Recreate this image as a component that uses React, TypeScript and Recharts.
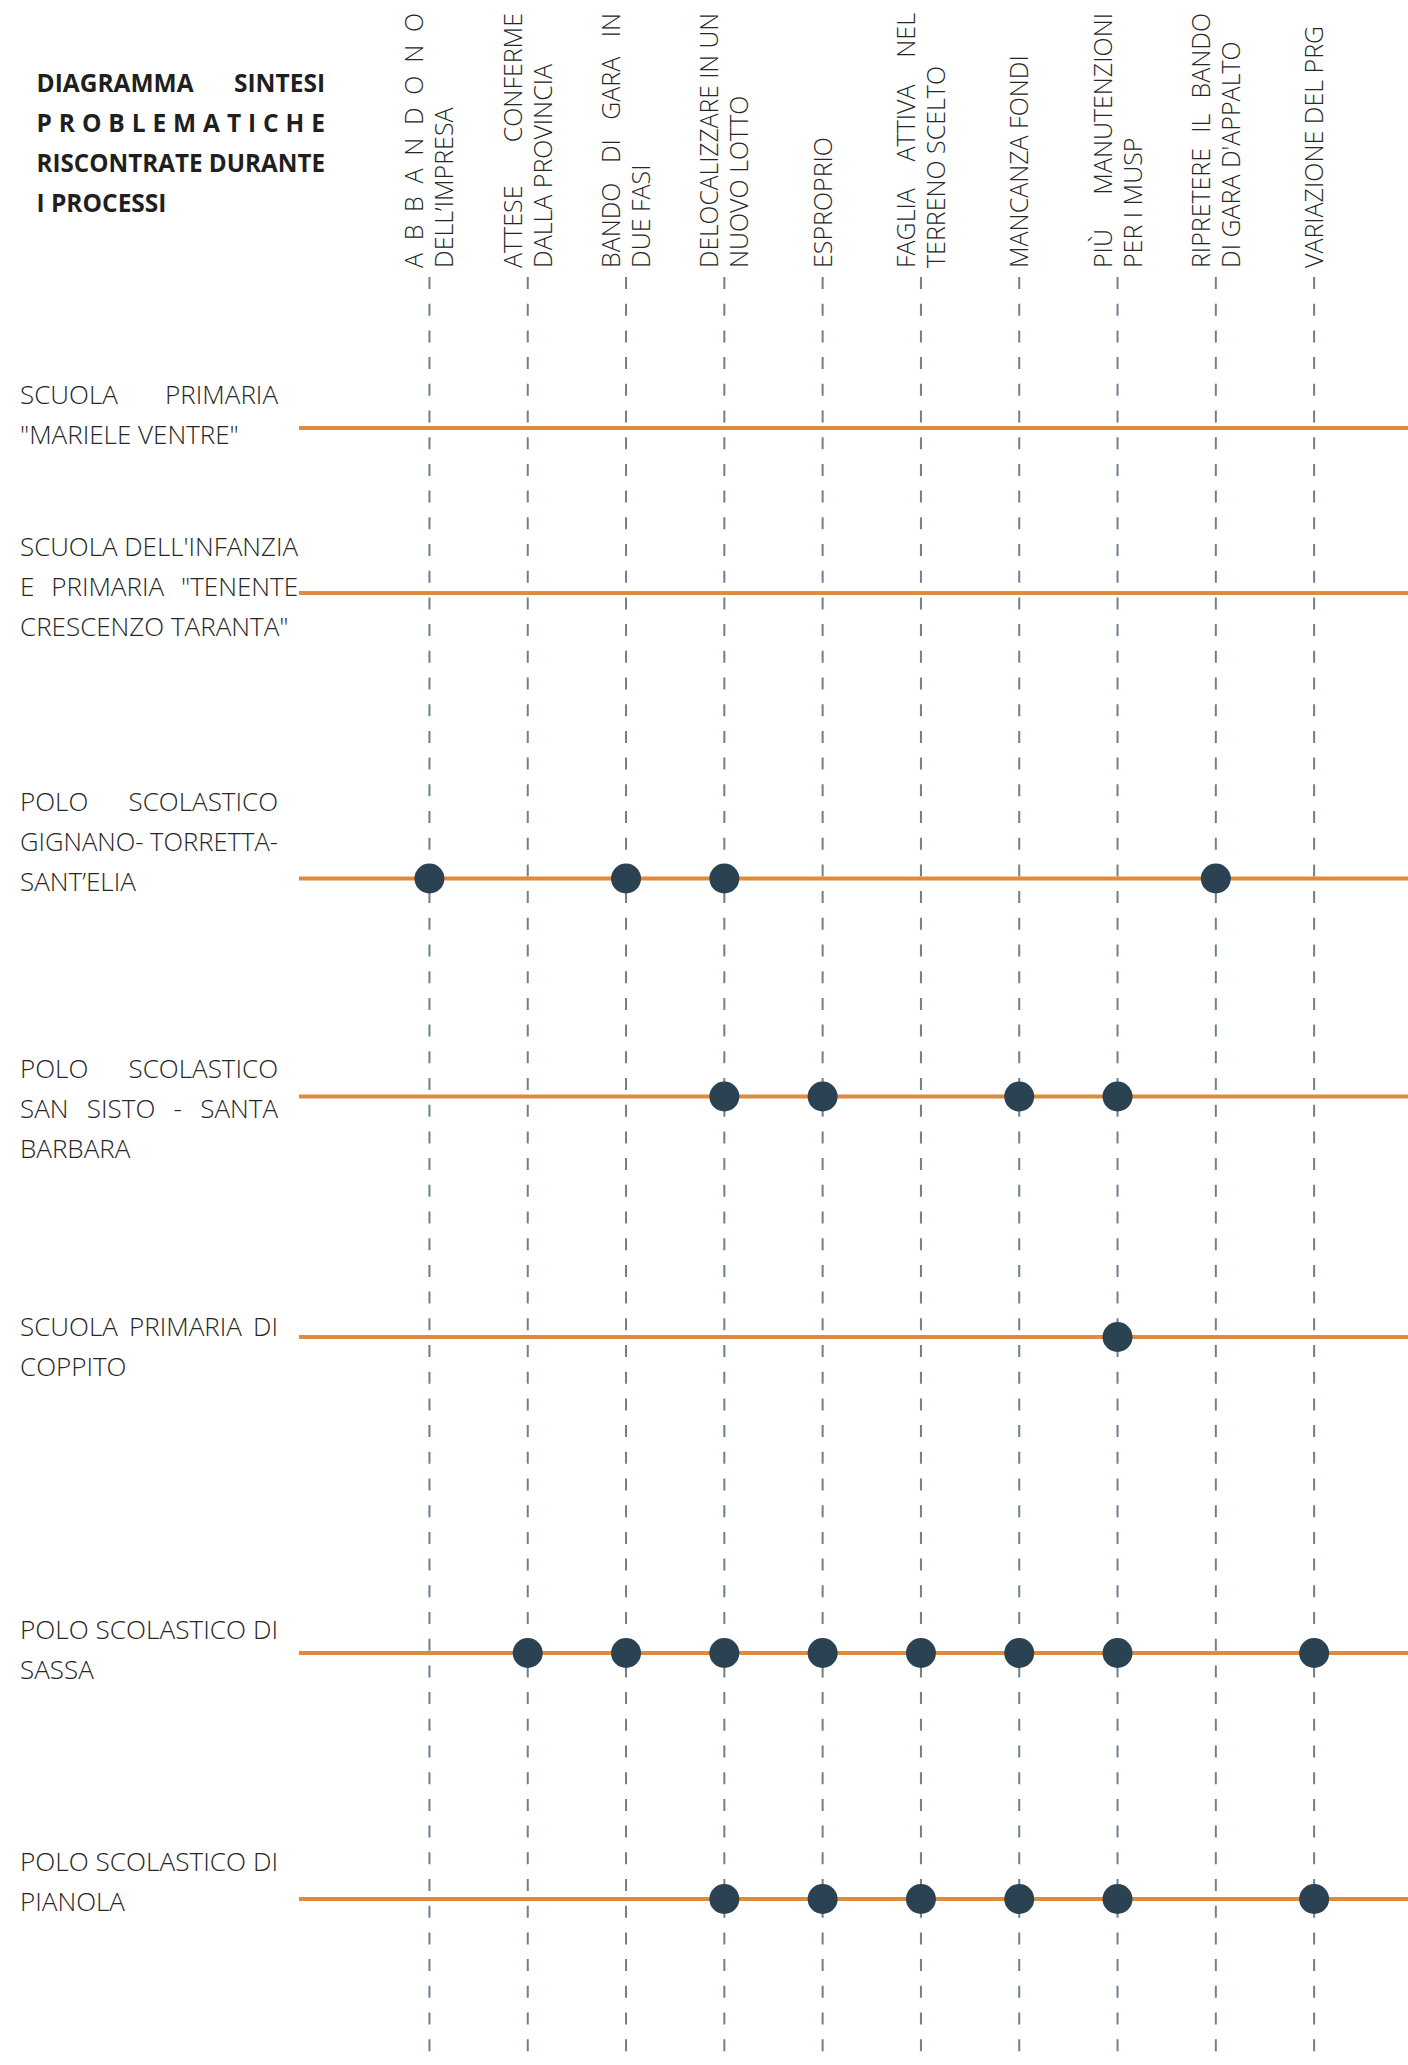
import React from 'react';
import { CartesianGrid, ReferenceLine, Scatter, ScatterChart, XAxis, YAxis } from 'recharts';

// column headers (one entry per problem, split in lines as in the original)
const problemLabels: string[][] = [
  ['ABBANDONO', 'DELL’IMPRESA'],
  ['ATTESE CONFERME', 'DALLA PROVINCIA'],
  ['BANDO DI GARA IN', 'DUE FASI'],
  ['DELOCALIZZARE IN UN', 'NUOVO LOTTO'],
  ['ESPROPRIO'],
  ['FAGLIA ATTIVA NEL', 'TERRENO SCELTO'],
  ['MANCANZA FONDI'],
  ['PIÙ MANUTENZIONI', 'PER I MUSP'],
  ['RIPRETERE IL BANDO', "DI GARA D'APPALTO"],
  ['VARIAZIONE DEL PRG'],
];

const schoolLabels: string[][] = [
  ['SCUOLA PRIMARIA', '"MARIELE VENTRE"'],
  ["SCUOLA DELL'INFANZIA", 'E PRIMARIA "TENENTE', 'CRESCENZO TARANTA"'],
  ['POLO SCOLASTICO', 'GIGNANO- TORRETTA-', 'SANT’ELIA'],
  ['POLO SCOLASTICO', 'SAN SISTO - SANTA', 'BARBARA'],
  ['SCUOLA PRIMARIA DI', 'COPPITO'],
  ['POLO SCOLASTICO DI', 'SASSA'],
  ['POLO SCOLASTICO DI', 'PIANOLA'],
];

// problems met by each school (index into problemLabels)
const schoolIssues: number[][] = [
  [],
  [],
  [0, 2, 3, 8],
  [3, 4, 6, 7],
  [7],
  [1, 2, 3, 4, 5, 6, 7, 9],
  [3, 4, 5, 6, 7, 9],
];

const titleLines = ['DIAGRAMMA SINTESI', 'PROBLEMATICHE', 'RISCONTRATE DURANTE', 'I PROCESSI'];

// layout
const W = 1408;
const H = 2065;
const HEADER_H = 277;
const LEFT_W = 299;
const PLOT_H = H - HEADER_H;
const ROW_GAPS = [151, 165, 285.5, 218, 240.5, 316, 246];
const LABEL_SHIFT = [-33, -46, -77, -28, -10, -23, -37];
const LABEL_WIDTH = [258, 278, 258, 258, 258, 258, 258];

const ORANGE = '#e08a3c';
const NAVY = '#2b4253';
const GRID = '#6e808d';
const TEXT = '#262626';

type Font = { family: string; size: number; weight: number };
const labelFont: Font = { family: '"Open Sans", sans-serif', size: 26, weight: 300 };
const headFont: Font = { family: '"Open Sans", sans-serif', size: 25, weight: 300 };
const titleFont: Font = { family: '"Open Sans", sans-serif', size: 24.5, weight: 700 };

const rowY: number[] = [];
ROW_GAPS.reduce((acc, g) => {
  rowY.push(acc + g);
  return acc + g;
}, 0);

const points = schoolIssues.flatMap((cols, i) => cols.map((c) => ({ x: c, y: rowY[i] })));

let ctx: CanvasRenderingContext2D | null = null;
function textWidth(text: string, f: Font) {
  if (!ctx) ctx = document.createElement('canvas').getContext('2d');
  if (!ctx) return text.length * f.size * 0.55;
  ctx.font = `${f.weight} ${f.size}px ${f.family}`;
  return ctx.measureText(text).width;
}

function JLine(props: { x: number; y: number; width: number; text: string; justify: boolean; f: Font; fill: string }) {
  const { x, y, width, text, justify, f, fill } = props;
  const attrs = { fontFamily: f.family, fontSize: f.size, fontWeight: f.weight, fill };
  const words = text.split(' ').filter(Boolean);
  if (!justify) {
    return (
      <text x={x} y={y} {...attrs}>
        {text}
      </text>
    );
  }
  if (words.length === 1) {
    return (
      <text x={x} y={y} textLength={width} lengthAdjust="spacing" {...attrs}>
        {text}
      </text>
    );
  }
  const widths = words.map((w) => textWidth(w, f));
  const gap = (width - widths.reduce((a, b) => a + b, 0)) / (words.length - 1);
  if (gap < f.size * 0.3) {
    // too tight: squeeze the line a little, keeping normal spaces
    return (
      <text x={x} y={y} textLength={width} lengthAdjust="spacingAndGlyphs" {...attrs}>
        {text}
      </text>
    );
  }
  let cx = x;
  return (
    <g>
      {words.map((w, i) => {
        const el = (
          <text key={i} x={cx} y={y} {...attrs}>
            {w}
          </text>
        );
        cx += widths[i] + gap;
        return el;
      })}
    </g>
  );
}

function ProblemTick(props: any) {
  const lines = problemLabels[props.payload.value];
  if (!lines) return null;
  const n = lines.length;
  return (
    <g transform={`translate(${props.x},268) rotate(-90)`}>
      {lines.map((t, k) => (
        <JLine key={k} x={0} y={9 - 15 * (n - 1) + 30 * k} width={255} text={t} justify={k < n - 1} f={headFont} fill={TEXT} />
      ))}
    </g>
  );
}

function SchoolTick(props: any) {
  const i = rowY.indexOf(props.payload.value);
  if (i < 0) return null;
  const lines = schoolLabels[i];
  const base = props.y + LABEL_SHIFT[i] + 9;
  return (
    <g>
      {lines.map((t, k) => (
        <JLine key={k} x={20} y={base + 40 * k} width={LABEL_WIDTH[i]} text={t} justify={k < lines.length - 1} f={labelFont} fill={TEXT} />
      ))}
    </g>
  );
}

const Dot = (p: any) => <circle cx={p.cx} cy={p.cy} r={15} fill={NAVY} />;

export default function App() {
  return (
    <div style={{ position: 'absolute', left: 0, top: 0, width: W, height: H, background: '#fff' }}>
      <ScatterChart width={W} height={H} margin={{ top: 0, right: 0, bottom: 0, left: 0 }}>
        <CartesianGrid horizontal={false} syncWithTicks stroke={GRID} strokeWidth={2} strokeDasharray="12 14.7" />
        <XAxis
          type="number"
          dataKey="x"
          orientation="top"
          height={HEADER_H}
          domain={[-1.327, 9.955]}
          ticks={problemLabels.map((_, i) => i)}
          interval={0}
          axisLine={false}
          tickLine={false}
          allowDataOverflow
          tick={(p: any) => <ProblemTick {...p} />}
        />
        <YAxis
          type="number"
          dataKey="y"
          width={LEFT_W}
          domain={[0, PLOT_H]}
          reversed
          ticks={rowY}
          interval={0}
          axisLine={false}
          tickLine={false}
          allowDataOverflow
          tick={(p: any) => <SchoolTick {...p} />}
        />
        {rowY.map((y, i) => (
          <ReferenceLine key={i} y={y} stroke={ORANGE} strokeWidth={4} />
        ))}
        <Scatter data={points} isAnimationActive={false} shape={Dot} />
      </ScatterChart>
      <svg width={340} height={240} style={{ position: 'absolute', left: 0, top: 0, pointerEvents: 'none' }}>
        {titleLines.map((t, k) => (
          <JLine key={k} x={36.5} y={91.7 + 40 * k} width={288.5} text={t} justify={k < titleLines.length - 1} f={titleFont} fill="#1f1f1f" />
        ))}
      </svg>
    </div>
  );
}
